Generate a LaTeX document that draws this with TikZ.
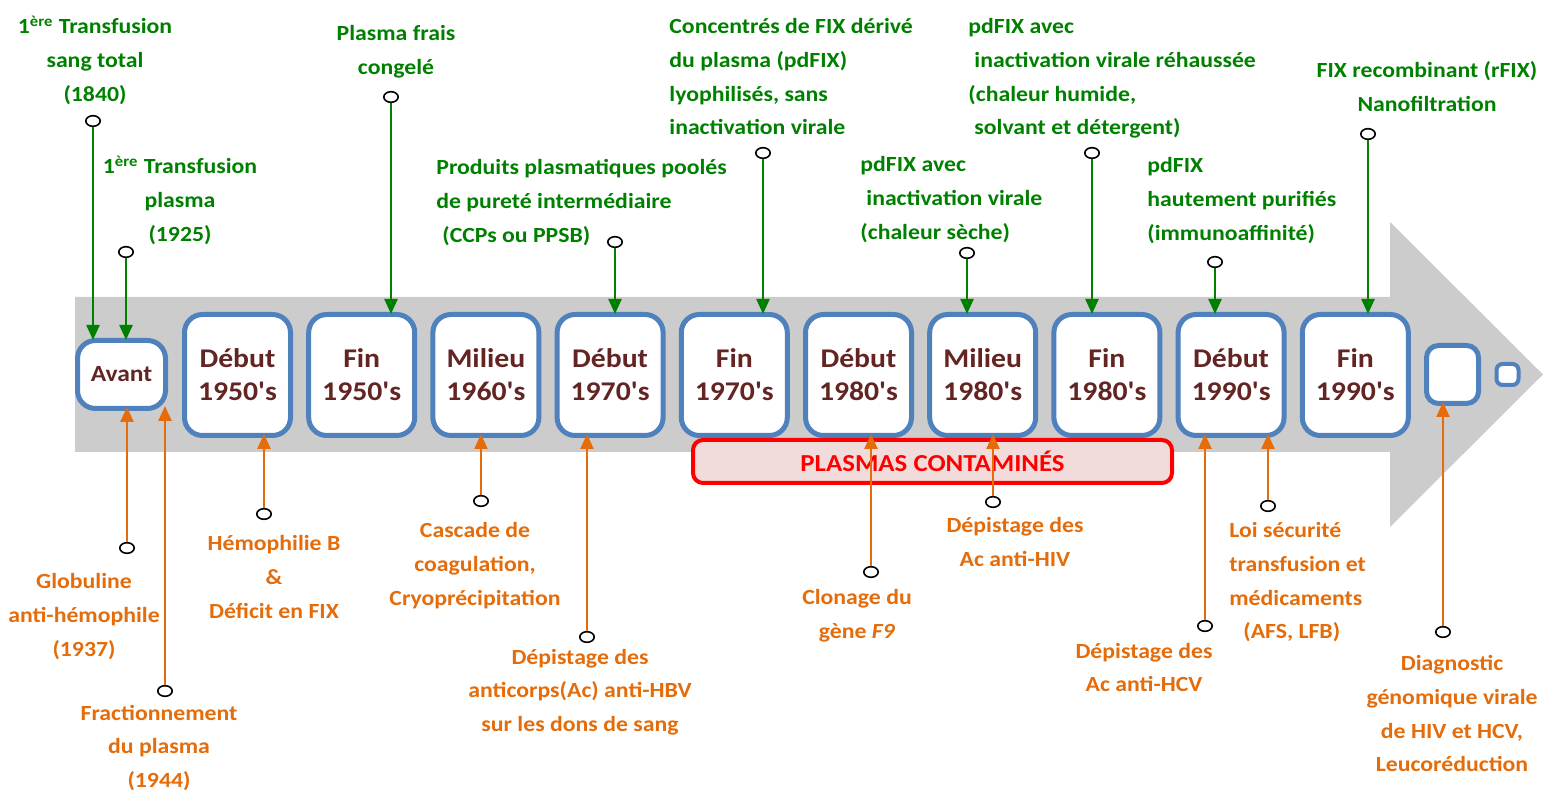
\documentclass[tikz,border=0pt]{standalone}
\usepackage{fontspec}
\usetikzlibrary{shapes.geometric,arrows.meta}
\newfontfamily\carl[FakeStretch=1.1]{Carlito}
\definecolor{tlgreen}{RGB}{0,128,0}
\definecolor{tlorange}{RGB}{228,108,10}
\definecolor{yeartext}{RGB}{99,37,35}
\definecolor{boxblue}{RGB}{79,129,189}
\definecolor{bandgray}{RGB}{204,204,204}
\definecolor{alertfill}{RGB}{242,220,219}
\definecolor{alertred}{RGB}{255,0,0}
\newcommand\ind[1][3pt]{\hspace*{#1}}
\begin{document}
\begin{tikzpicture}[x=0.5pt,y=-0.5pt,
  yearbox/.style={draw=boxblue, line width=2.5pt, fill=white, rounded corners=9pt,
    minimum width=53pt, minimum height=60.5pt, inner sep=0pt, align=center,
    text=yeartext, font=\carl\bfseries\fontsize{13.5}{16.5}\selectfont},
  smallbox/.style={draw=boxblue, line width=2.5pt, fill=white, rounded corners=6pt, inner sep=0pt},
  pin/.style={ellipse, draw=black, fill=white, line width=0.8pt,
    minimum width=7.2pt, minimum height=5.3pt, inner sep=0pt},
  gline/.style={draw=tlgreen, line width=1.2pt, shorten >=-1pt,
    -{Triangle[width=6.5pt,length=7.5pt]}},
  oline/.style={draw=tlorange, line width=1.2pt, shorten >=-2pt,
    -{Triangle[width=6.5pt,length=7.5pt]}},
  lbl/.style={inner sep=0pt, font=\carl\bfseries\fontsize{10.8}{16.8}\selectfont},
  glabel/.style={lbl, text=tlgreen},
  olabel/.style={lbl, text=tlorange}]
\useasboundingbox (0,0) rectangle (1543,790);

% grey time arrow
\fill[bandgray] (75,297) -- (1390,297) -- (1390,222) -- (1543,374.5)
  -- (1390,527) -- (1390,452) -- (75,452) -- cycle;

% period boxes
\node[yearbox, minimum width=44pt, minimum height=34pt,
  font=\carl\bfseries\fontsize{11.6}{14}\selectfont] (avant) at (121.5,374.5) {Avant};
\node[yearbox] (b1)  at (237.5,375) {Début\\1950's};
\node[yearbox] (b2)  at (361.7,375) {Fin\\1950's};
\node[yearbox] (b3)  at (485.9,375) {Milieu\\1960's};
\node[yearbox] (b4)  at (610.1,375) {Début\\1970's};
\node[yearbox] (b5)  at (734.3,375) {Fin\\1970's};
\node[yearbox] (b6)  at (858.5,375) {Début\\1980's};
\node[yearbox] (b7)  at (982.7,375) {Milieu\\1980's};
\node[yearbox] (b8)  at (1106.9,375) {Fin\\1980's};
\node[yearbox] (b9)  at (1231.1,375) {Début\\1990's};
\node[yearbox] (b10) at (1355.3,375) {Fin\\1990's};
\node[smallbox, minimum width=26pt, minimum height=29pt] (sq1) at (1452.5,374.5) {};
\node[smallbox, line width=2pt, rounded corners=3pt, minimum width=11pt, minimum height=10.5pt] (sq2) at (1507.5,374.5) {};

% contaminated-plasma period
\node[draw=alertred, line width=2pt, fill=alertfill, rounded corners=5pt,
  minimum width=239.5pt, minimum height=21.5pt, inner sep=0pt,
  text=alertred, font=\carl\bfseries\fontsize{12.2}{14}\selectfont] (alert) at (932.5,461.5)
  {PLASMAS CONTAMINÉS};

% pins above the arrow
\node[pin] (gp1) at (93,121) {};
\node[pin] (gp2) at (126,252) {};
\node[pin] (gp3) at (391,97) {};
\node[pin] (gp4) at (615,242) {};
\node[pin] (gp5) at (763,153) {};
\node[pin] (gp6) at (967,253) {};
\node[pin] (gp7) at (1092,153) {};
\node[pin] (gp8) at (1215,262) {};
\node[pin] (gp9) at (1368,134) {};

% pins below the arrow
\node[pin] (op1) at (127,548) {};
\node[pin] (op2) at (165,691) {};
\node[pin] (op3) at (264,514) {};
\node[pin] (op4) at (481,501) {};
\node[pin] (op5) at (587,637) {};
\node[pin] (op6) at (871,572) {};
\node[pin] (op7) at (993,502) {};
\node[pin] (op8) at (1205,626) {};
\node[pin] (op9) at (1268,506) {};
\node[pin] (op10) at (1443,632) {};

% treatments (green, pointing down)
\draw[gline] (gp1.south) -- (gp1 |- avant.north);
\draw[gline] (gp2.south) -- (gp2 |- avant.north);
\draw[gline] (gp3.south) -- (gp3 |- b2.north);
\draw[gline] (gp4.south) -- (gp4 |- b4.north);
\draw[gline] (gp5.south) -- (gp5 |- b5.north);
\draw[gline] (gp6.south) -- (gp6 |- b7.north);
\draw[gline] (gp7.south) -- (gp7 |- b8.north);
\draw[gline] (gp8.south) -- (gp8 |- b9.north);
\draw[gline] (gp9.south) -- (gp9 |- b10.north);

% discoveries and safety measures (orange, pointing up)
\draw[oline] (op1.north) -- (op1 |- avant.south);
\draw[oline, shorten >=-2.5pt] (op2.north) -- (op2 |- avant.south);
\draw[oline] (op3.north) -- (op3 |- b1.south);
\draw[oline] (op4.north) -- (op4 |- b3.south);
\draw[oline] (op5.north) -- (op5 |- b4.south);
\draw[oline] (op6.north) -- (op6 |- b6.south);
\draw[oline] (op7.north) -- (op7 |- b7.south);
\draw[oline] (op8.north) -- (op8 |- b9.south);
\draw[oline] (op9.north) -- (op9 |- b9.south);
\draw[oline] (op10.north) -- (op10 |- sq1.south);

% green labels (placed by the baseline of their last line)
\node[glabel, align=center, anchor=base] (g1) at (95,101.2)
  {1\textsuperscript{ère} Transfusion\\sang total\\(1840)};
\node[glabel, align=center, anchor=base] (g2) at (180,241.2)
  {1\textsuperscript{ère} Transfusion\\plasma\\(1925)};
\node[glabel, align=center, anchor=base] (g3) at (396,74.6)
  {Plasma frais\\congelé};
\node[glabel, align=left, anchor=base west] (g4) at (436,242.2)
  {Produits plasmatiques poolés\\de pureté intermédiaire\\\ind(CCPs ou PPSB)};
\node[glabel, align=left, anchor=base west] (g5) at (669,134.8)
  {Concentrés de FIX dérivé\\du plasma (pdFIX)\\lyophilisés, sans\\inactivation virale};
\node[glabel, align=left, anchor=base west] (g6) at (860,239.2)
  {pdFIX avec\\\ind inactivation virale\\(chaleur sèche)};
\node[glabel, align=left, anchor=base west] (g7) at (968,134.8)
  {pdFIX avec\\\ind inactivation virale réhaussée\\(chaleur humide,\\\ind solvant et détergent)};
\node[glabel, align=left, anchor=base west] (g8) at (1147,240.2)
  {pdFIX\\hautement purifiés\\(immunoaffinité)};
\node[glabel, align=center, anchor=base] (g9) at (1427,111.6)
  {FIX recombinant (rFIX)\\Nanofiltration};

% orange labels
\node[olabel, align=center, anchor=base] (o1) at (84,656.2)
  {Globuline\\anti-hémophile\\(1937)};
\node[olabel, align=center, anchor=base] (o2) at (159,787.2)
  {Fractionnement\\du plasma\\(1944)};
\node[olabel, align=center, anchor=base] (o3) at (274,618.2)
  {Hémophilie B\\\&\\Déficit en FIX};
\node[olabel, align=center, anchor=base] (o4) at (475,605.2)
  {Cascade de\\coagulation,\\Cryoprécipitation};
\node[olabel, align=center, anchor=base] (o5) at (580,731.2)
  {Dépistage des\\anticorps(Ac) anti-HBV\\sur les dons de sang};
\node[olabel, align=center, anchor=base] (o6) at (857,638.6)
  {Clonage du\\gène \textit{F9}};
\node[olabel, align=center, anchor=base] (o7) at (1015,566.6)
  {Dépistage des\\Ac anti-HIV};
\node[olabel, align=center, anchor=base] (o8) at (1144,691.6)
  {Dépistage des\\Ac anti-HCV};
\node[olabel, align=left, anchor=base west] (o9) at (1229,638.8)
  {Loi sécurité\\transfusion et\\médicaments\\\ind[7pt](AFS, LFB)};
\node[olabel, align=center, anchor=base] (o10) at (1452,771.8)
  {Diagnostic\\génomique virale\\de HIV et HCV,\\Leucoréduction};
\end{tikzpicture}
\end{document}
